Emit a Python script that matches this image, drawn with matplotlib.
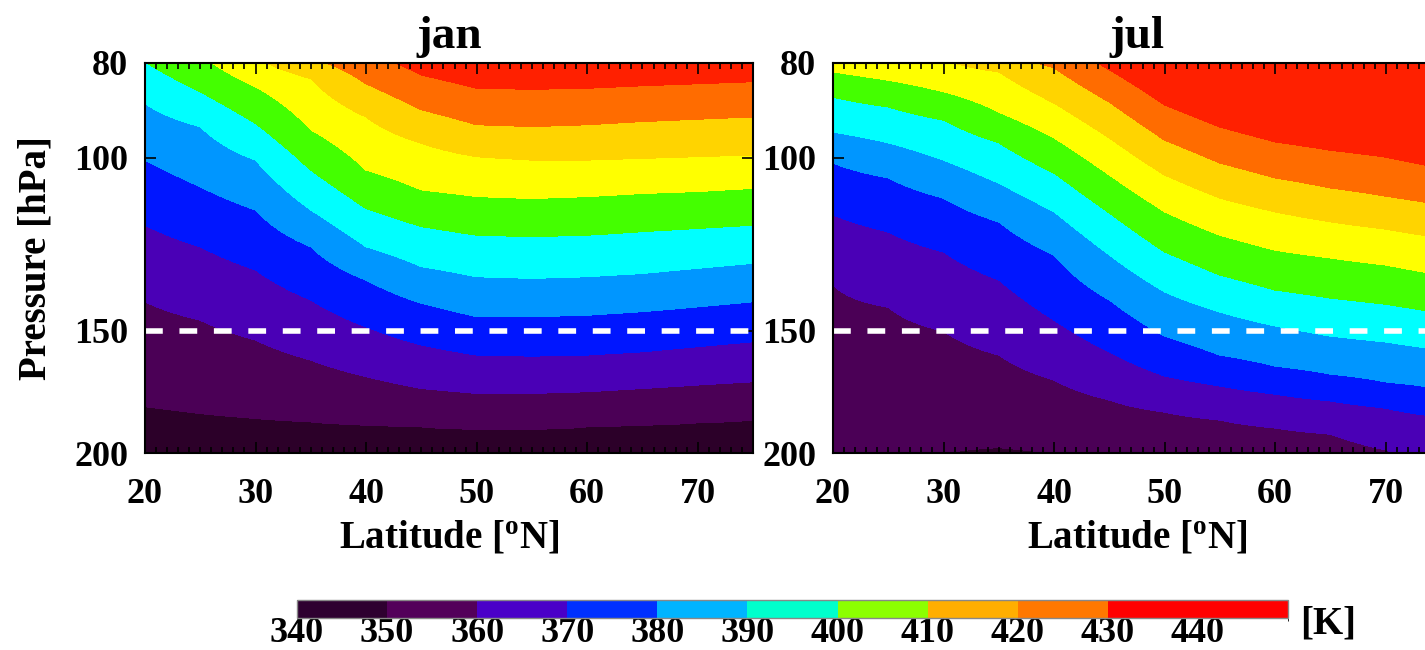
import numpy as np
import matplotlib
matplotlib.use('Agg')
import matplotlib.pyplot as plt
from matplotlib.colors import ListedColormap, BoundaryNorm
from matplotlib.colorbar import ColorbarBase
from matplotlib.ticker import FixedLocator, MultipleLocator, NullLocator, FixedFormatter

plt.rcParams['font.family'] = ['Liberation Serif', 'DejaVu Serif']
plt.rcParams['font.weight'] = 'bold'
plt.rcParams['mathtext.fontset'] = 'custom'
plt.rcParams['mathtext.rm'] = 'Liberation Serif:bold'
plt.rcParams['mathtext.bf'] = 'Liberation Serif:bold'

# data ------------------------------------------------------------------------

lats = [20, 25, 30, 35, 40, 45, 50, 55, 60, 65, 70, 75]
theta = [340, 350, 360, 370, 380, 390, 400, 410, 420, 430, 440, 450]

# pressure [hPa] of each theta surface (rows) at each latitude (columns)
p_jan = [
    [224.0, 228.0, 230.0, 232.0, 234.0, 235.0, 236.0, 236.0, 235.0, 234.0, 233.0, 231.0],
    [179.4, 182.3, 184.4, 185.9, 187.3, 188.1, 189.2, 189.2, 188.1, 187.3, 186.3, 185.1],
    [140.2, 146.4, 153.4, 160.8, 167.2, 171.9, 173.9, 173.9, 173.2, 171.9, 170.5, 169.2],
    [117.1, 123.2, 130.1, 139.6, 148.7, 155.2, 158.9, 159.3, 158.9, 157.7, 155.8, 154.0],
    [100.5, 107.0, 113.0, 123.2, 133.2, 140.7, 145.2, 145.2, 144.7, 143.5, 141.9, 140.2],
    [88.0, 92.9, 100.5, 113.0, 123.2, 129.1, 132.2, 132.7, 132.2, 131.2, 129.6, 128.1],
    [79.8, 85.6, 92.2, 102.9, 112.6, 117.5, 119.9, 120.3, 119.9, 118.9, 118.0, 117.1],
    [74.0, 78.5, 84.6, 93.6, 102.9, 107.8, 109.5, 110.0, 109.5, 108.7, 108.2, 107.4],
    [70.0, 74.0, 79.0, 83.0, 90.8, 96.6, 99.7, 100.5, 100.5, 100.1, 99.7, 99.3],
    [66.0, 70.0, 74.0, 79.0, 84.0, 89.3, 92.5, 92.9, 92.5, 91.8, 91.3, 90.8],
    [62.0, 65.0, 68.0, 72.0, 78.0, 82.3, 84.9, 85.1, 84.9, 84.4, 84.0, 83.6],
    [58.2, 60.4, 62.5, 66.5, 71.2, 75.1, 77.9, 78.0, 77.9, 77.6, 77.3, 77.0],
]

p_jul = [
    [237.0, 233.0, 230.0, 227.0, 230.0, 233.0, 237.0, 242.0, 246.0, 251.0, 255.0, 270.0],
    [206.0, 203.0, 200.3, 197.5, 200.3, 203.0, 206.0, 210.0, 214.0, 218.0, 222.0, 235.0],
    [134.8, 142.0, 150.2, 158.9, 168.5, 176.6, 181.7, 185.1, 188.6, 191.3, 198.6, 208.2],
    [114.3, 119.0, 124.7, 133.2, 146.4, 157.8, 166.9, 170.9, 174.2, 177.0, 180.0, 183.8],
    [101.2, 104.8, 109.9, 116.2, 125.6, 139.6, 152.0, 158.9, 163.1, 166.2, 169.3, 172.1],
    [94.1, 96.5, 100.5, 106.1, 113.5, 125.6, 137.0, 143.6, 148.4, 152.0, 154.1, 157.0],
    [86.7, 88.7, 91.5, 96.5, 103.6, 113.8, 124.7, 131.7, 136.4, 139.0, 141.0, 144.0],
    [81.7, 83.3, 85.6, 89.8, 95.4, 104.1, 113.5, 119.9, 124.2, 126.5, 128.6, 131.7],
    [77.6, 78.5, 79.4, 81.7, 87.9, 95.4, 104.1, 109.9, 113.5, 116.2, 118.2, 120.7],
    [74.9, 75.8, 76.7, 78.0, 80.9, 87.7, 95.9, 101.2, 104.8, 107.3, 109.4, 111.7],
    [72.3, 73.2, 74.0, 75.4, 77.2, 81.3, 88.3, 93.0, 96.3, 98.2, 99.8, 102.4],
    [69.8, 70.7, 71.4, 72.9, 73.6, 75.4, 81.3, 85.5, 88.5, 89.9, 91.0, 93.9],
]

months = ['jan', 'jul']
p_ticks = [80, 100, 150, 200]
lat_ticks = [20, 30, 40, 50, 60, 70]
cbar_ticks = [340, 350, 360, 370, 380, 390, 400, 410, 420, 430, 440]
p_line = 150

plot_colors = ['#2c0029', '#4b0056', '#4a00b6', '#0016ff', '#0096ff', '#00ffff',
               '#44ff00', '#ffff00', '#ffd400', '#ff6c00', '#ff2000']
cbar_colors = ['#2e0030', '#53005a', '#4a00c8', '#0030ff', '#00b4ff', '#00ffcc',
               '#8cff00', '#ffae00', '#ff7800', '#ff0000', '#ff0000']


def theta_field(p_surf, plev):
    # theta on plev for every latitude column, from the theta surface heights
    p_surf = np.asarray(p_surf, dtype=float)
    field = np.empty((len(plev), p_surf.shape[1]))
    for j in range(p_surf.shape[1]):
        field[:, j] = np.interp(-np.log(plev), -np.log(p_surf[:, j]), theta)
    return field


plev = np.geomspace(80, 200, 300)
fields = {'jan': theta_field(p_jan, plev), 'jul': theta_field(p_jul, plev)}

# figure ----------------------------------------------------------------------

fig = plt.figure(figsize=(14.25, 6.5), dpi=100)
lefts = [145 / 1425., 833 / 1425.]
width = 608 / 1425.

for k, month in enumerate(months):
    ax = fig.add_axes([lefts[k], 1 - 453 / 650., width, 390 / 650.])
    ax.contourf(lats, plev, fields[month], levels=theta, colors=plot_colors)
    ax.axhline(p_line, color='white', lw=4, dashes=(3.2, 3.0))

    ax.set_yscale('log')
    ax.set_ylim(200, 80)
    ax.set_xlim(20, 75)
    ax.yaxis.set_major_locator(FixedLocator(p_ticks))
    ax.yaxis.set_major_formatter(FixedFormatter([str(p) for p in p_ticks]))
    ax.yaxis.set_minor_locator(NullLocator())
    ax.xaxis.set_major_locator(FixedLocator(lat_ticks))
    ax.xaxis.set_minor_locator(MultipleLocator(1))

    ax.tick_params(which='both', direction='in', top=True, right=True,
                   width=1.2, labelsize=26, pad=12)
    ax.tick_params(axis='x', which='both', pad=18)
    ax.tick_params(which='major', length=8)
    ax.tick_params(which='minor', length=4)
    for s in ax.spines.values():
        s.set_linewidth(1.5)

    ax.set_title(month, fontsize=34, fontweight='bold', pad=11)
    ax.set_xlabel(r'Latitude [$^{\rm o}$N]', fontsize=28, fontweight='bold', labelpad=6)
    if k == 0:
        ax.set_ylabel('Pressure [hPa]', fontsize=28, fontweight='bold', labelpad=14)

# colour bar
cax = fig.add_axes([297 / 1425., 1 - 618 / 650., 991 / 1425., 18 / 650.])
cb = ColorbarBase(cax, cmap=ListedColormap(cbar_colors),
                  norm=BoundaryNorm(theta, len(cbar_colors)),
                  orientation='horizontal', ticks=cbar_ticks)
cb.outline.set_edgecolor('#888888')
cb.outline.set_linewidth(1)
cax.tick_params(length=0, labelsize=26, pad=-1)
fig.text(1328 / 1425., 1 - 624 / 650., '[K]', fontsize=28, fontweight='bold',
         ha='center', va='center')

fig.savefig('out.png', dpi=100)
